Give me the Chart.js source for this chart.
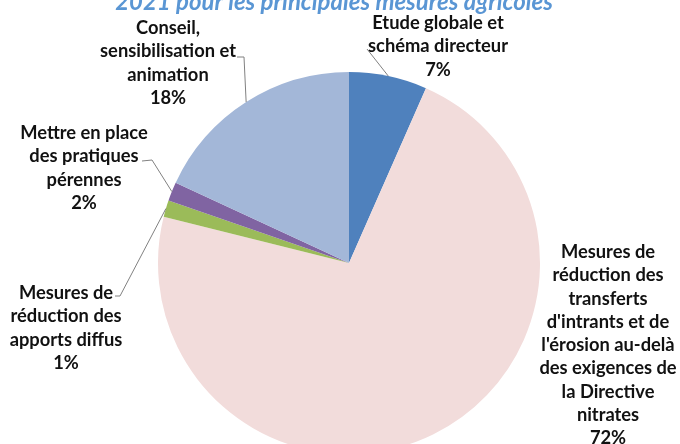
<!DOCTYPE html>
<html>
<head>
<meta charset="utf-8">
<script src="https://cdn.jsdelivr.net/npm/chart.js@4"></script>
<style>
html,body{margin:0;padding:0;background:#fff;overflow:hidden;}
#wrap{width:680px;height:460px;position:relative;}
</style>
</head>
<body>
<div id="wrap"><canvas id="c" width="680" height="460"></canvas></div>
<script>
// ---- data ----
const categories = [
  "Etude globale et schéma directeur",
  "Mesures de réduction des transferts d'intrants et de l'érosion au-delà des exigences de la Directive nitrates",
  "Mesures de réduction des apports diffus",
  "Mettre en place des pratiques pérennes",
  "Conseil, sensibilisation et animation"
];
const values = [6.6, 72.3, 1.4, 1.6, 18.1];
const percentLabels = ["7%", "72%", "1%", "2%", "18%"];
const labelLines = [
  ["Etude globale et", "schéma directeur"],
  ["Mesures de", "réduction des", "transferts", "d'intrants et de", "l'érosion au-delà", "des exigences de", "la Directive", "nitrates"],
  ["Mesures de", "réduction des", "apports diffus"],
  ["Mettre en place", "des pratiques", "pérennes"],
  ["Conseil,", "sensibilisation et", "animation"]
];
const titleText = "2021 pour les principales mesures agricoles";

// ---- layout / style ----
const colors = ["#4f81bd", "#f2dcdb", "#9bbb59", "#8064a2", "#a3b7d8"];
const labelLayout = [
  {x: 438, y: 23, leader: [[367, 49]]},
  {x: 608, y: 252, leader: null},
  {x: 66, y: 293, leader: [[115, 296], [120, 296]]},
  {x: 84, y: 133, leader: [[142, 161], [152, 160]]},
  {x: 168, y: 28, leader: [[237, 57], [244, 57]]}
];
const lineH = 23.3;
const fontFam = "Lato, 'Open Sans', sans-serif";

const labelPlugin = {
  id: 'labelPlugin',
  afterDraw(chart) {
    const ctx = chart.ctx;
    const meta = chart.getDatasetMeta(0);
    ctx.save();
    // title (cropped at top)
    let fs = 21;
    ctx.font = "italic bold " + fs + "px " + fontFam;
    const w = ctx.measureText(titleText).width;
    fs = fs * 438 / w;
    ctx.font = "italic bold " + fs + "px " + fontFam;
    ctx.fillStyle = "#5a96d4";
    ctx.textAlign = "center";
    ctx.textBaseline = "alphabetic";
    ctx.fillText(titleText, 334, 10);

    // leader lines
    ctx.strokeStyle = "#808080";
    ctx.lineWidth = 1;
    meta.data.forEach((arc, i) => {
      const L = labelLayout[i];
      if (!L.leader) return;
      const p = arc.getProps(['x','y','startAngle','endAngle','outerRadius'], true);
      const mid = (p.startAngle + p.endAngle) / 2;
      const ex = p.x + Math.cos(mid) * p.outerRadius;
      const ey = p.y + Math.sin(mid) * p.outerRadius;
      ctx.beginPath();
      ctx.moveTo(L.leader[0][0], L.leader[0][1]);
      for (let k = 1; k < L.leader.length; k++) ctx.lineTo(L.leader[k][0], L.leader[k][1]);
      ctx.lineTo(ex, ey);
      ctx.stroke();
    });

    // labels: size fitted to reference line width
    let ls = 16;
    ctx.font = "bold " + ls + "px " + fontFam;
    const wm = ctx.measureText("sensibilisation et").width;
    ls = ls * 136 / wm;
    ctx.font = "bold " + ls + "px " + fontFam;
    ctx.fillStyle = "#111111";
    ctx.textAlign = "center";
    ctx.textBaseline = "middle";
    labelLines.forEach((lines, i) => {
      const L = labelLayout[i];
      const all = lines.concat([percentLabels[i]]);
      all.forEach((t, k) => ctx.fillText(t, L.x, L.y + k * lineH));
    });
    ctx.restore();
  }
};

new Chart(document.getElementById('c'), {
  type: 'pie',
  data: {
    labels: categories,
    datasets: [{
      data: values,
      backgroundColor: colors,
      borderWidth: 0
    }]
  },
  options: {
    responsive: false,
    animation: false,
    layout: {padding: {left: 18, right: 0, top: 72, bottom: 6}},
    plugins: {legend: {display: false}, tooltip: {enabled: false}, title: {display: false}}
  },
  plugins: [labelPlugin]
});
</script>
</body>
</html>
